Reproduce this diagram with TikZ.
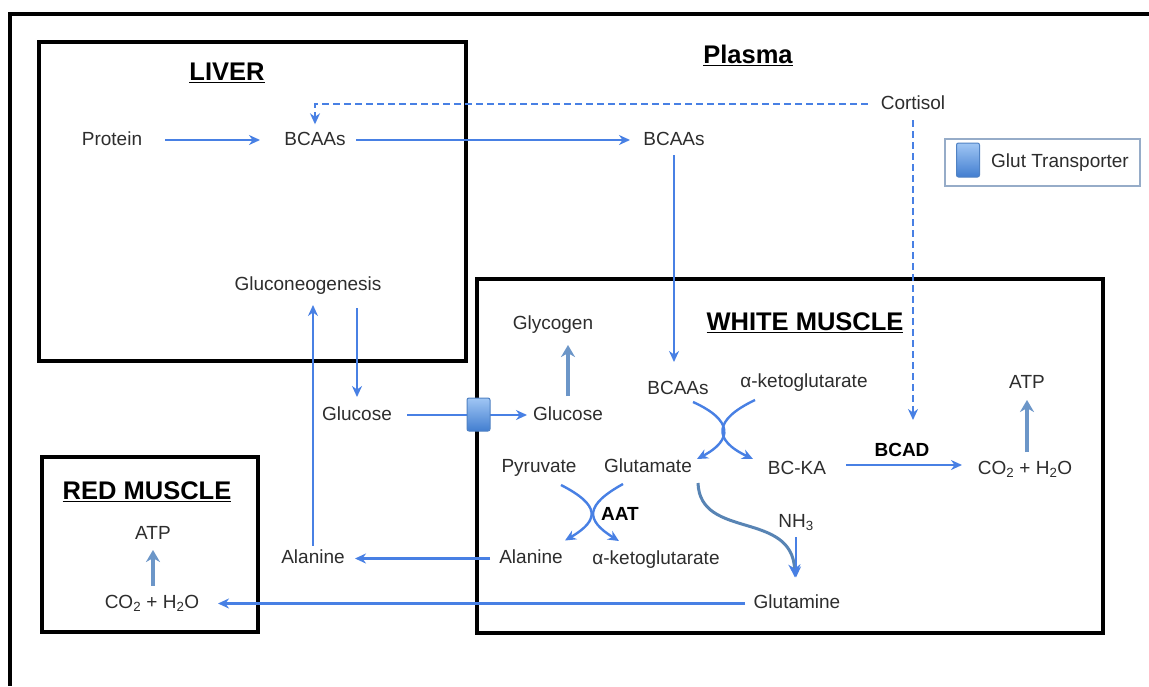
\documentclass[tikz,border=0pt]{standalone}
\usepackage{fontspec}
\setmainfont{Liberation Sans}
\usetikzlibrary{arrows.meta}
\definecolor{txt}{RGB}{45,45,45}
\definecolor{blueA}{RGB}{72,128,228}
\definecolor{steel}{RGB}{108,150,200}
\definecolor{curveC}{RGB}{88,132,180}
\definecolor{legendB}{RGB}{150,172,200}
\definecolor{glutTop}{RGB}{160,198,244}
\definecolor{glutBot}{RGB}{66,126,208}
\definecolor{glutEdge}{RGB}{80,130,195}
\begin{document}
\begin{tikzpicture}[x=1pt,y=-1pt,
  lbl/.style={font=\fontsize{19}{23}\selectfont, text=txt, inner sep=3pt, text height=13.5pt, text depth=3.5pt},
  blbl/.style={lbl, font=\fontsize{19}{23}\selectfont\bfseries, text=black},
  ttl/.style={font=\fontsize{25.5}{30}\selectfont\bfseries, text=black, inner sep=2pt},
  box/.style={draw=black, line width=4pt},
  arr/.style={draw=blueA, line width=2.4pt, -{Stealth[length=11pt,width=10pt]}},
  darr/.style={arr, dash pattern=on 7pt off 4pt},
  sarr/.style={draw=steel, line width=3.5pt, -{Stealth[length=12pt,width=14pt]}},
  carr/.style={draw=curveC, line width=3pt, -{Stealth[length=13pt,width=12pt,color=blueA]}},
  glutbox/.style={draw=glutEdge, line width=1pt, top color=glutTop, bottom color=glutBot, rounded corners=2pt, minimum width=23pt, minimum height=33pt, inner sep=0pt},
]
\fill[white] (0,0) rectangle (1149,686);
\useasboundingbox (0,0) rectangle (1149,686);

% outer frame
\draw[line width=4pt] (1149,14) -- (9.5,14) -- (9.5,686);

% compartments
\draw[box] (39,42) rectangle (466,361);
\draw[box] (477,279) rectangle (1103,633);
\draw[box] (42,457) rectangle (258,632);

% titles
\node[ttl] (liver) at (227,73) {\underline{LIVER}};
\node[ttl] (plasma) at (748,55) {\underline{Plasma}};
\node[ttl] (white) at (805,323) {\underline{WHITE MUSCLE}};
\node[ttl] (red) at (147,492) {\underline{RED MUSCLE}};

% legend
\node[draw=legendB, line width=1.5pt, minimum width=195pt, minimum height=47pt, inner sep=0pt] (legendbox) at (1042.5,162.5) {};
\node[glutbox, minimum height=34pt] (glutL) at (968,160) {};
\node[lbl] (legend) at (1060,162) {Glut Transporter};

% labels
\node[lbl] (protein) at (112,140) {Protein};
\node[lbl] (bcaaL) at (315,140) {BCAAs};
\node[lbl] (bcaaP) at (674,140) {BCAAs};
\node[lbl] (cortisol) at (913,104) {Cortisol};
\node[lbl] (gluconeo) at (308,285) {Gluconeogenesis};
\node[lbl] (glycogen) at (553,324) {Glycogen};
\node[lbl] (bcaaW) at (678,389) {BCAAs};
\node[lbl] (akgTop) at (804,382) {α-ketoglutarate};
\node[lbl] (atpW) at (1027,383) {ATP};
\node[lbl] (glucP) at (357,415) {Glucose};
\node[lbl] (glucW) at (568,415) {Glucose};
\node[lbl] (pyruvate) at (539,467) {Pyruvate};
\node[lbl] (glutamate) at (648,467) {Glutamate};
\node[lbl] (bcka) at (797,469) {BC-KA};
\node[blbl] (bcad) at (902,451) {BCAD};
\node[lbl] (co2W) at (1025,469) {CO\textsubscript{2} + H\textsubscript{2}O};
\node[blbl] (aat) at (620,515) {AAT};
\node[lbl] (nh3) at (796,522) {NH\textsubscript{3}};
\node[lbl] (alanP) at (313,558.5) {Alanine};
\node[lbl] (alanW) at (531,558.5) {Alanine};
\node[lbl] (akgBot) at (656,559) {α-ketoglutarate};
\node[lbl] (glutamine) at (797,603.5) {Glutamine};
\node[lbl] (atpR) at (153,534) {ATP};
\node[lbl] (co2R) at (152,603.5) {CO\textsubscript{2} + H\textsubscript{2}O};

% liver / plasma connectors
\draw[arr, shorten <=53pt, shorten >=55pt] (protein.center) -- (bcaaL.center);
\draw[arr, shorten <=41pt, shorten >=44pt] (bcaaL.center) -- (bcaaP.center);
\draw[darr, shorten <=10pt, shorten >=4pt] (cortisol.west) -| (bcaaL.north);
\draw[darr, shorten <=16pt, shorten >=31pt] (cortisol.center) -- (cortisol.center |- bcad.center);
\draw[arr, shorten <=15pt, shorten >=27pt] (bcaaP.center) -- (bcaaP.center |- bcaaW.center);
\draw[arr, shorten <=13pt, shorten >=20pt] (alanP.center) -- (alanP.center |- gluconeo.center);
\draw[arr, shorten <=23pt, shorten >=18pt] (gluconeo.center -| glucP.center) -- (glucP.center);
\draw[arr, shorten <=50pt, shorten >=41pt] (glucP.center) -- (glucW.center);
\node[glutbox] (glut) at (478.5,414.5) {};

% white muscle
\draw[sarr, shorten <=19pt, shorten >=21pt] (glucW.center) -- (glucW.center |- glycogen.center);
\draw[arr] ([shift={(15,13)}]bcaaW.center) .. controls (733,420) and (733,440) .. ([shift={(49,-8)}]glutamate.center);
\draw[arr] ([shift={(-49,18)}]akgTop.center) .. controls (713,420) and (713,440) .. ([shift={(-44,-10)}]bcka.center);
\draw[arr] ([shift={(22,18)}]pyruvate.center) .. controls (600,505) and (600,520) .. ([shift={(34,-18)}]alanW.center);
\draw[arr] ([shift={(-25,17)}]glutamate.center) .. controls (585,505) and (585,520) .. ([shift={(-37,-18)}]akgBot.center);
\draw[carr] ([shift={(50,16)}]glutamate.center) .. controls (700,540) and (792,510) .. ([shift={(-2,-26)}]glutamine.center);
\draw[arr, shorten <=49pt, shorten >=63pt] ([shift={(0,-4)}]bcka.center) -- ([shift={(0,-4)}]co2W.center);
\draw[sarr, shorten <=17pt, shorten >=17pt] (atpW.center |- co2W.center) -- (atpW.center);
\draw[arr, shorten <=15pt, shorten >=26pt] (nh3.center) -- (nh3.center |- glutamine.center);
\draw[arr, shorten <=41pt, shorten >=42pt] (alanW.center) -- (alanP.center);
\draw[arr, shorten <=52pt, shorten >=66pt] (glutamine.center) -- (co2R.center);

% red muscle
\draw[sarr, shorten <=18pt, shorten >=16pt] (atpR.center |- co2R.center) -- (atpR.center);
\end{tikzpicture}
\end{document}
